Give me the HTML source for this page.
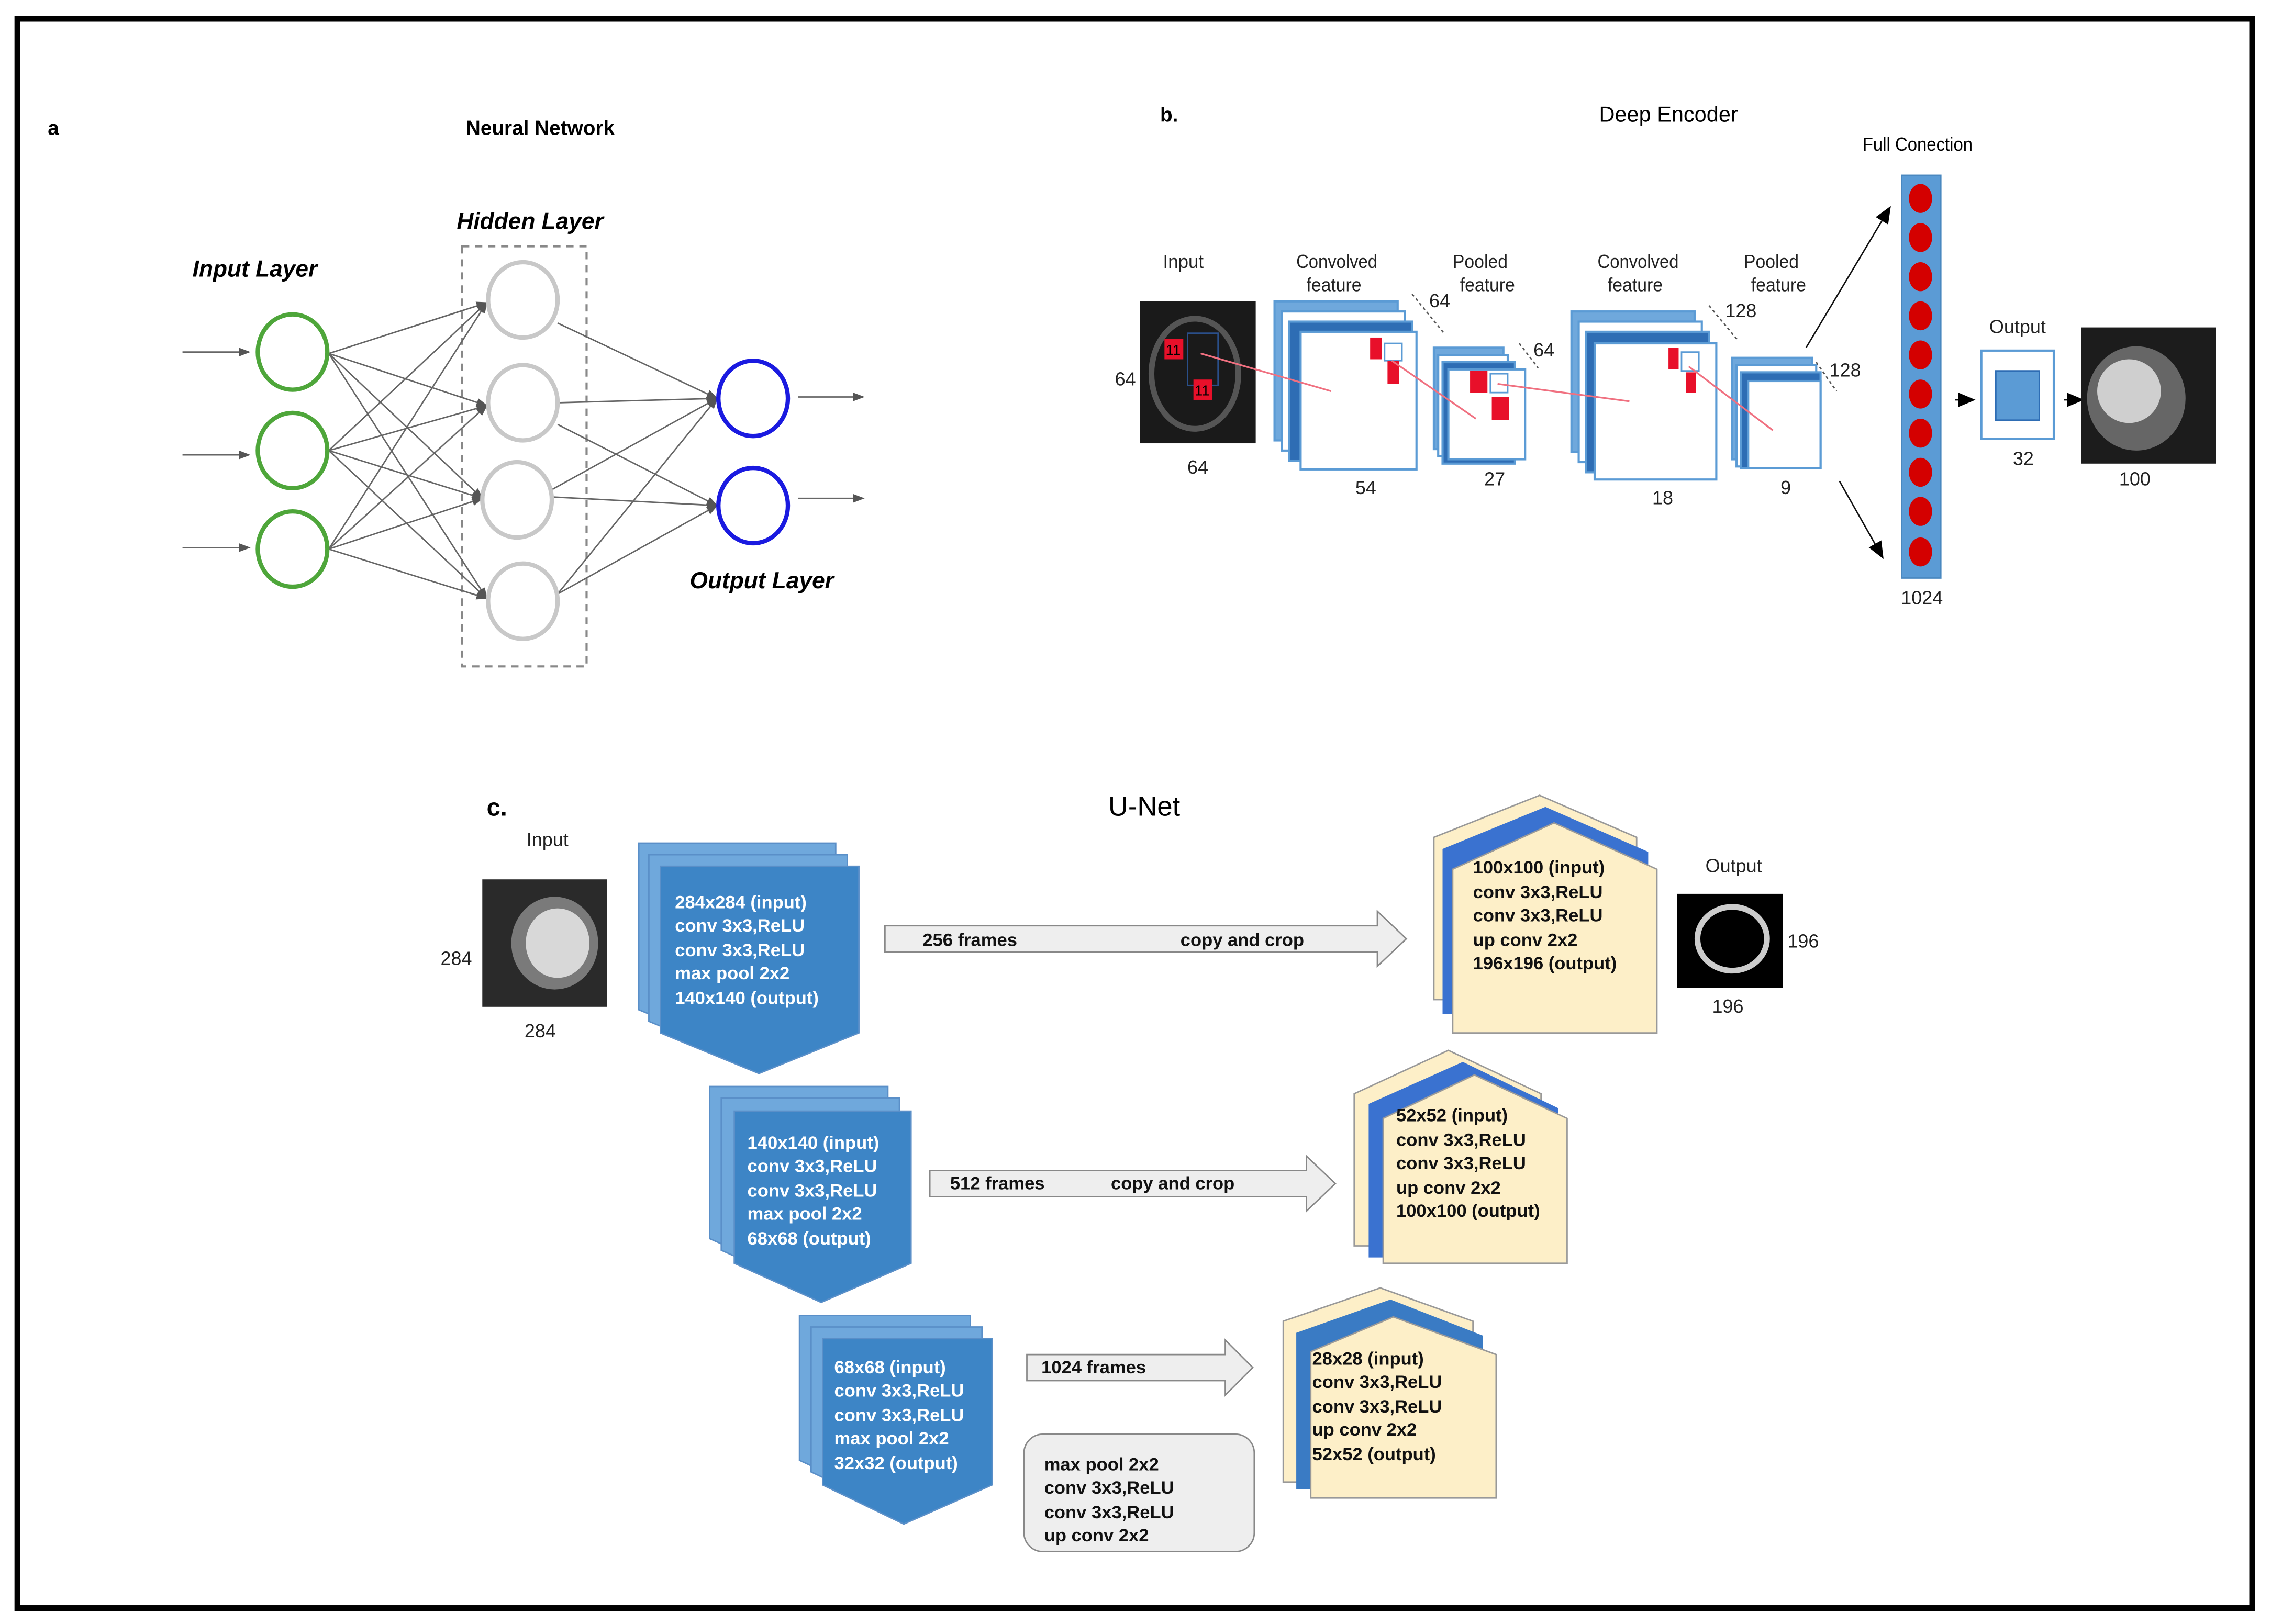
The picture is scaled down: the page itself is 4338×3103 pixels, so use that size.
<!DOCTYPE html>
<html><head><meta charset="utf-8"><style>
html,body{margin:0;padding:0;background:#fff}
svg{display:block}
text{font-family:"Liberation Sans",sans-serif}
</style></head><body>
<svg width="4338" height="3103" viewBox="0 0 1568 1121" preserveAspectRatio="none" xmlns="http://www.w3.org/2000/svg">
<defs>
<marker id="ag" markerWidth="8" markerHeight="8" refX="7" refY="4" orient="auto" markerUnits="userSpaceOnUse"><path d="M0,1 L8,4 L0,7 z" fill="#555"/></marker>
<marker id="ab" markerWidth="12" markerHeight="12" refX="11" refY="6" orient="auto" markerUnits="userSpaceOnUse"><path d="M0,1 L12,6 L0,11 z" fill="#000"/></marker>
</defs>
<rect x="0" y="0" width="1568" height="1121" fill="#fff"/>
<rect x="12" y="13" width="1543" height="1097" fill="none" stroke="#000" stroke-width="4"/>

<!-- Panel a -->
<text x="33" y="93" font-size="14" font-weight="bold">a</text>
<text x="373" y="93" font-size="14" font-weight="bold" text-anchor="middle">Neural Network</text>
<text x="366" y="158" font-size="16" font-weight="bold" font-style="italic" text-anchor="middle">Hidden Layer</text>
<text x="176" y="191" font-size="16" font-weight="bold" font-style="italic" text-anchor="middle">Input Layer</text>
<text x="526" y="406" font-size="16" font-weight="bold" font-style="italic" text-anchor="middle">Output Layer</text>
<rect x="319" y="170" width="86" height="290" fill="none" stroke="#888" stroke-width="1.5" stroke-dasharray="5,4"/>
<g stroke="#666" stroke-width="1" fill="none" marker-end="url(#ag)">
<line x1="126" y1="243" x2="172" y2="243"/><line x1="126" y1="314" x2="172" y2="314"/><line x1="126" y1="378" x2="172" y2="378"/>
<line x1="551" y1="274" x2="596" y2="274"/><line x1="551" y1="344" x2="596" y2="344"/>
<line x1="227" y1="244" x2="336" y2="209"/><line x1="227" y1="244" x2="336" y2="280"/><line x1="227" y1="244" x2="333" y2="344"/><line x1="227" y1="244" x2="336" y2="413"/>
<line x1="227" y1="311" x2="336" y2="209"/><line x1="227" y1="311" x2="336" y2="280"/><line x1="227" y1="311" x2="333" y2="344"/><line x1="227" y1="311" x2="336" y2="413"/>
<line x1="227" y1="379" x2="336" y2="209"/><line x1="227" y1="379" x2="336" y2="280"/><line x1="227" y1="379" x2="333" y2="344"/><line x1="227" y1="379" x2="336" y2="413"/>
<line x1="385" y1="223" x2="495" y2="275"/><line x1="385" y1="278" x2="495" y2="275"/><line x1="385" y1="293" x2="495" y2="349"/>
<line x1="381" y1="338" x2="495" y2="275"/><line x1="381" y1="343" x2="495" y2="349"/>
<line x1="385" y1="410" x2="495" y2="275"/><line x1="385" y1="410" x2="495" y2="349"/>
</g>
<g fill="none" stroke-width="3">
<ellipse cx="202" cy="243" rx="24" ry="26" stroke="#4ea63a"/>
<ellipse cx="202" cy="311" rx="24" ry="26" stroke="#4ea63a"/>
<ellipse cx="202" cy="379" rx="24" ry="26" stroke="#4ea63a"/>
<ellipse cx="361" cy="207" rx="24" ry="26" stroke="#c8c8c8"/>
<ellipse cx="361" cy="278" rx="24" ry="26" stroke="#c8c8c8"/>
<ellipse cx="357" cy="345" rx="24" ry="26" stroke="#c8c8c8"/>
<ellipse cx="361" cy="415" rx="24" ry="26" stroke="#c8c8c8"/>
<ellipse cx="520" cy="275" rx="24" ry="26" stroke="#1a1ae0"/>
<ellipse cx="520" cy="349" rx="24" ry="26" stroke="#1a1ae0"/>
</g>

<!-- Panel b -->
<text x="801" y="84" font-size="14" font-weight="bold">b.</text>
<text x="1152" y="84" font-size="15" text-anchor="middle">Deep Encoder</text>
<text x="1324" y="104" font-size="13" text-anchor="middle" textLength="76" lengthAdjust="spacingAndGlyphs">Full Conection</text>
<g font-size="13" text-anchor="middle" fill="#222">
<text x="817" y="185" textLength="28" lengthAdjust="spacingAndGlyphs">Input</text>
<text x="923" y="185" textLength="56" lengthAdjust="spacingAndGlyphs">Convolved</text><text x="921" y="201" textLength="38" lengthAdjust="spacingAndGlyphs">feature</text>
<text x="1022" y="185" textLength="38" lengthAdjust="spacingAndGlyphs">Pooled</text><text x="1027" y="201" textLength="38" lengthAdjust="spacingAndGlyphs">feature</text>
<text x="1131" y="185" textLength="56" lengthAdjust="spacingAndGlyphs">Convolved</text><text x="1129" y="201" textLength="38" lengthAdjust="spacingAndGlyphs">feature</text>
<text x="1223" y="185" textLength="38" lengthAdjust="spacingAndGlyphs">Pooled</text><text x="1228" y="201" textLength="38" lengthAdjust="spacingAndGlyphs">feature</text>
<text x="777" y="266">64</text><text x="827" y="327">64</text>
<text x="994" y="212">64</text><text x="970" y="280">54</text><text x="943" y="341">54</text>
<text x="1066" y="246">64</text><text x="1010" y="303">27</text><text x="1032" y="335">27</text>
<text x="1202" y="219">128</text><text x="1171" y="306">18</text><text x="1148" y="348">18</text>
<text x="1274" y="260">128</text><text x="1251" y="300">9</text><text x="1233" y="341">9</text>
<text x="1327" y="417">1024</text><text x="1393" y="230">Output</text><text x="1397" y="321">32</text><text x="1474" y="335">100</text>
</g>
<!-- input image -->
<rect x="787" y="208" width="80" height="98" fill="#1a1a1a"/>
<ellipse cx="825" cy="258" rx="30" ry="38" fill="none" stroke="#555" stroke-width="4"/>
<rect x="820" y="230" width="21" height="36" fill="none" stroke="#2a4f8a"/>
<rect x="804" y="234" width="13" height="14" fill="#e8102a"/><text x="810" y="245" font-size="10" fill="#000" text-anchor="middle">11</text>
<rect x="824" y="262" width="13" height="14" fill="#e8102a"/><text x="830" y="273" font-size="10" fill="#000" text-anchor="middle">11</text>
<!-- conv1 -->
<g stroke="#5b9bd5" stroke-width="1.5">
<rect x="880" y="208" width="85" height="96" fill="#6fa8dc"/>
<rect x="885" y="215" width="85" height="96" fill="#fff"/>
<rect x="890" y="222" width="85" height="96" fill="#2e6db4"/>
<rect x="898" y="229" width="80" height="95" fill="#fff"/>
<rect x="990" y="240" width="48" height="70" fill="#6fa8dc"/>
<rect x="993" y="245" width="48" height="70" fill="#fff"/>
<rect x="996" y="250" width="50" height="70" fill="#2e6db4"/>
<rect x="1000" y="255" width="53" height="62" fill="#fff"/>
<rect x="1085" y="215" width="85" height="97" fill="#6fa8dc"/>
<rect x="1090" y="222" width="85" height="97" fill="#fff"/>
<rect x="1095" y="229" width="85" height="97" fill="#2e6db4"/>
<rect x="1101" y="237" width="84" height="94" fill="#fff"/>
<rect x="1196" y="247" width="55" height="70" fill="#6fa8dc"/>
<rect x="1199" y="252" width="55" height="70" fill="#fff"/>
<rect x="1202" y="257" width="55" height="66" fill="#2e6db4"/>
<rect x="1207" y="263" width="50" height="60" fill="#fff"/>
</g>
<g stroke="#555" stroke-width="1" stroke-dasharray="2,2">
<line x1="975" y1="203" x2="997" y2="230"/><line x1="1049" y1="237" x2="1062" y2="254"/>
<line x1="1180" y1="211" x2="1200" y2="235"/><line x1="1254" y1="250" x2="1268" y2="270"/>
</g>
<rect x="946" y="233" width="8" height="15" fill="#e8102a"/><rect x="956" y="237" width="12" height="12" fill="#fff" stroke="#5b9bd5"/><rect x="958" y="249" width="8" height="16" fill="#e8102a"/>
<rect x="1015" y="256" width="12" height="15" fill="#e8102a"/><rect x="1029" y="258" width="12" height="13" fill="#fff" stroke="#5b9bd5"/><rect x="1030" y="274" width="12" height="16" fill="#e8102a"/>
<rect x="1152" y="240" width="7" height="15" fill="#e8102a"/><rect x="1161" y="243" width="12" height="13" fill="#fff" stroke="#5b9bd5"/><rect x="1164" y="257" width="7" height="14" fill="#e8102a"/>
<g stroke="#f07080" stroke-width="1.2">
<line x1="829" y1="244" x2="919" y2="270"/><line x1="961" y1="249" x2="1019" y2="289"/>
<line x1="1034" y1="265" x2="1125" y2="277"/><line x1="1166" y1="253" x2="1224" y2="297"/>
</g>
<!-- full connection -->
<rect x="1313" y="121" width="27" height="278" fill="#5b9bd5" stroke="#4a88c0"/>
<g fill="#d40000">
<ellipse cx="1326" cy="137" rx="8" ry="10"/><ellipse cx="1326" cy="164" rx="8" ry="10"/><ellipse cx="1326" cy="191" rx="8" ry="10"/><ellipse cx="1326" cy="218" rx="8" ry="10"/><ellipse cx="1326" cy="245" rx="8" ry="10"/><ellipse cx="1326" cy="272" rx="8" ry="10"/><ellipse cx="1326" cy="299" rx="8" ry="10"/><ellipse cx="1326" cy="326" rx="8" ry="10"/><ellipse cx="1326" cy="353" rx="8" ry="10"/><ellipse cx="1326" cy="381" rx="8" ry="10"/>
</g>
<g stroke="#111" stroke-width="1" marker-end="url(#ab)">
<line x1="1247" y1="240" x2="1305" y2="143"/><line x1="1270" y1="332" x2="1300" y2="385"/>
<line x1="1350" y1="276" x2="1363" y2="276"/><line x1="1425" y1="276" x2="1438" y2="276"/>
</g>
<rect x="1368" y="242" width="50" height="61" fill="#fff" stroke="#5b9bd5" stroke-width="1.5"/>
<rect x="1378" y="256" width="30" height="34" fill="#5b9bd5" stroke="#2e6db4"/>
<rect x="1437" y="226" width="93" height="94" fill="#1c1c1c"/>
<ellipse cx="1475" cy="275" rx="34" ry="36" fill="#666"/>
<ellipse cx="1470" cy="270" rx="22" ry="22" fill="#cfcfcf"/>

<!-- Panel c -->
<text x="336" y="563" font-size="17" font-weight="bold">c.</text>
<text x="790" y="563" font-size="19" text-anchor="middle">U-Net</text>
<g font-size="13" text-anchor="middle" fill="#222">
<text x="378" y="584">Input</text><text x="315" y="666">284</text><text x="373" y="716">284</text>
<text x="1197" y="602">Output</text><text x="1245" y="654">196</text><text x="1193" y="699">196</text>
</g>
<rect x="333" y="607" width="86" height="88" fill="#2a2a2a"/>
<ellipse cx="383" cy="651" rx="30" ry="32" fill="#7a7a7a"/>
<ellipse cx="385" cy="651" rx="22" ry="24" fill="#d8d8d8"/>
<rect x="1158" y="617" width="73" height="65" fill="#000"/>
<ellipse cx="1196" cy="648" rx="24" ry="22" fill="none" stroke="#ccc" stroke-width="4"/>

<!-- encoder blocks -->
<g stroke="#5a8fc8" stroke-width="1">
<polygon points="441,582 577,582 577,697 509,725 441,697" fill="#6fa8dc"/>
<polygon points="448,590 585,590 585,705 516,733 448,705" fill="#6fa8dc"/>
<polygon points="456,598 593,598 593,713 524,741 456,713" fill="#3d85c6"/>
<polygon points="490,750 613,750 613,855 551,882 490,855" fill="#6fa8dc"/>
<polygon points="498,758 621,758 621,863 559,890 498,863" fill="#6fa8dc"/>
<polygon points="507,767 629,767 629,872 567,899 507,872" fill="#3d85c6"/>
<polygon points="552,908 670,908 670,1008 610,1035 552,1008" fill="#6fa8dc"/>
<polygon points="560,916 678,916 678,1016 617,1043 560,1016" fill="#6fa8dc"/>
<polygon points="568,924 685,924 685,1025 624,1052 568,1025" fill="#3d85c6"/>
</g>
<g font-size="12.5" font-weight="bold" fill="#fff">
<text x="466" y="627">284x284 (input)</text><text x="466" y="643">conv 3x3,ReLU</text><text x="466" y="660">conv 3x3,ReLU</text><text x="466" y="676">max pool 2x2</text><text x="466" y="693">140x140 (output)</text>
<text x="516" y="793">140x140 (input)</text><text x="516" y="809">conv 3x3,ReLU</text><text x="516" y="826">conv 3x3,ReLU</text><text x="516" y="842">max pool 2x2</text><text x="516" y="859">68x68 (output)</text>
<text x="576" y="948">68x68 (input)</text><text x="576" y="964">conv 3x3,ReLU</text><text x="576" y="981">conv 3x3,ReLU</text><text x="576" y="997">max pool 2x2</text><text x="576" y="1014">32x32 (output)</text>
</g>
<!-- arrows -->
<g fill="#eeeeee" stroke="#888" stroke-width="1">
<polygon points="611,639 951,639 951,629 971,648 951,667 951,657 611,657"/>
<polygon points="642,808 902,808 902,798 922,817 902,836 902,826 642,826"/>
<polygon points="709,935 846,935 846,925 865,944 846,963 846,953 709,953"/>
<rect x="707" y="990" width="159" height="81" rx="13" ry="13"/>
</g>
<g font-size="12.5" font-weight="bold" fill="#111">
<text x="637" y="653">256 frames</text><text x="815" y="653">copy and crop</text>
<text x="656" y="821">512 frames</text><text x="767" y="821">copy and crop</text>
<text x="719" y="948">1024 frames</text>
<text x="721" y="1015">max pool 2x2</text><text x="721" y="1031">conv 3x3,ReLU</text><text x="721" y="1048">conv 3x3,ReLU</text><text x="721" y="1064">up conv 2x2</text>
</g>
<!-- decoder blocks -->
<g stroke="#999" stroke-width="1">
<polygon points="990,578 1063,549 1130,578 1130,690 990,690" fill="#fdefc8"/>
<polygon points="996,586 1067,557 1138,588 1138,700 996,700" fill="#3a72d0" stroke="none"/>
<polygon points="1003,600 1073,568 1144,600 1144,713 1003,713" fill="#fdefc8"/>
<polygon points="935,755 1000,725 1064,755 1064,860 935,860" fill="#fdefc8"/>
<polygon points="945,762 1010,733 1076,765 1076,868 945,868" fill="#3a72d0" stroke="none"/>
<polygon points="955,772 1018,742 1082,772 1082,872 955,872" fill="#fdefc8"/>
<polygon points="886,912 953,889 1017,912 1017,1023 886,1023" fill="#fdefc8"/>
<polygon points="895,920 960,897 1024,922 1024,1028 895,1028" fill="#3a7bc4" stroke="none"/>
<polygon points="905,933 962,909 1033,935 1033,1034 905,1034" fill="#fdefc8"/>
</g>
<g font-size="12.5" font-weight="bold" fill="#111">
<text x="1017" y="603">100x100 (input)</text><text x="1017" y="620">conv 3x3,ReLU</text><text x="1017" y="636">conv 3x3,ReLU</text><text x="1017" y="653">up conv 2x2</text><text x="1017" y="669">196x196 (output)</text>
<text x="964" y="774">52x52 (input)</text><text x="964" y="791">conv 3x3,ReLU</text><text x="964" y="807">conv 3x3,ReLU</text><text x="964" y="824">up conv 2x2</text><text x="964" y="840">100x100 (output)</text>
<text x="906" y="942">28x28 (input)</text><text x="906" y="958">conv 3x3,ReLU</text><text x="906" y="975">conv 3x3,ReLU</text><text x="906" y="991">up conv 2x2</text><text x="906" y="1008">52x52 (output)</text>
</g>
</svg>
</body></html>
